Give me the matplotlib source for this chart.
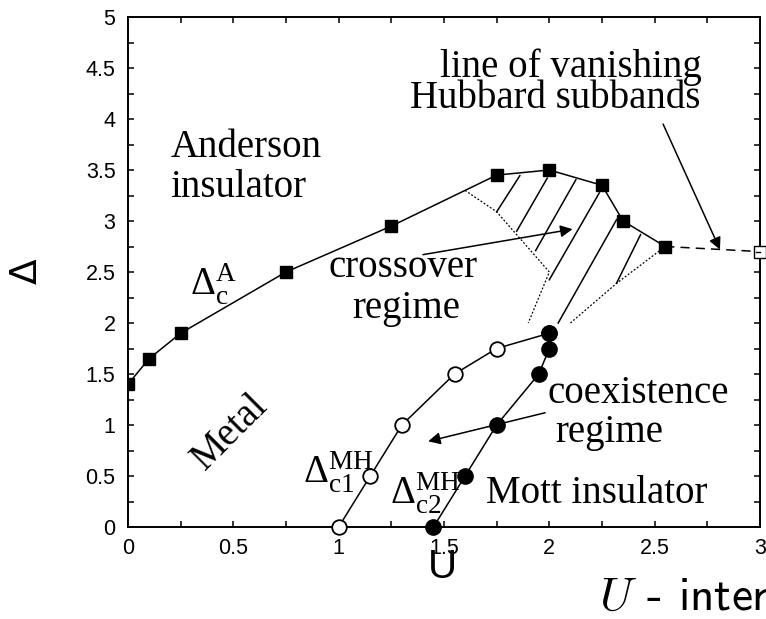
import numpy as np
import matplotlib.pyplot as plt
from matplotlib.ticker import MultipleLocator

plt.rcParams.update({
    "font.family": "Liberation Sans",
    "mathtext.fontset": "custom",
    "mathtext.rm": "Liberation Serif",
    "mathtext.it": "Liberation Serif:italic",
    "mathtext.bf": "Liberation Serif:bold",
    "axes.linewidth": 1.4,
    "xtick.direction": "in",
    "ytick.direction": "in",
    "xtick.top": True,
    "ytick.right": True,
    "xtick.major.size": 4.5,
    "ytick.major.size": 4.5,
    "xtick.minor.size": 4.5,
    "ytick.minor.size": 4.5,
    "xtick.major.width": 1.1,
    "ytick.major.width": 1.1,
    "xtick.minor.width": 1.1,
    "ytick.minor.width": 1.1,
    "xtick.major.pad": 8,
    "ytick.major.pad": 9,
    "xtick.labelsize": 15.5,
    "ytick.labelsize": 15.5,
})

# Anderson transition line Delta_c^A
u_and = [0.0, 0.1, 0.25, 0.75, 1.25, 1.75, 2.0, 2.25, 2.35, 2.55]
d_and = [1.4, 1.65, 1.9, 2.5, 2.95, 3.45, 3.5, 3.35, 3.0, 2.75]
# line of vanishing Hubbard subbands
u_van = [2.55, 3.0]
d_van = [2.75, 2.7]
# Mott-Hubbard lines Delta_c1 (open) and Delta_c2 (filled)
u_c1 = [1.0, 1.15, 1.3, 1.55, 1.75, 2.0]
d_c1 = [0.0, 0.5, 1.0, 1.5, 1.75, 1.9]
u_c2 = [1.45, 1.6, 1.75, 1.95, 2.0, 2.0]
d_c2 = [0.0, 0.5, 1.0, 1.5, 1.75, 1.9]

# crossover region: dotted borders and hatching
u_cross_l = [1.6, 1.75, 2.0, 1.9]
d_cross_l = [3.3, 3.09, 2.5, 2.0]
u_cross_r = [2.55, 2.32, 2.1]
d_cross_r = [2.75, 2.39, 2.0]
hatch_u0 = [1.86, 1.99, 2.126, 2.237, 2.319, 2.433]
hatch_d0 = [3.444, 3.42, 3.405, 3.275, 3.013, 2.866]
hatch_u1 = [1.75, 1.845, 1.935, 2.0, 2.042, 2.319]
hatch_d1 = [3.09, 2.9, 2.71, 2.424, 2.0, 2.39]

fig = plt.figure(figsize=(7.66, 6.19), dpi=100)
ax = fig.add_axes([128/766, 1-527/619, 632/766, 510/619])

lw = 1.1
ax.plot(u_and, d_and, '-', color='k', lw=lw, marker='s', ms=9, mfc='k', mec='k', zorder=3)
ax.plot(u_van, d_van, '--', color='k', lw=lw, dashes=(6, 4), zorder=2, clip_on=False)
ax.plot(u_van[-1], d_van[-1], 's', ms=8.5, mfc='white', mec='k', mew=1.0, zorder=4, clip_on=False)
ax.plot([u_van[-1] - 0.02, u_van[-1]], [d_van[-1], d_van[-1]], color='k', lw=1.0, zorder=5, clip_on=False)

ax.plot(u_c1, d_c1, '-', color='k', lw=lw, marker='o', ms=10.5, mfc='white', mec='k', mew=1.3,
        zorder=3, clip_on=False)
ax.plot(u_c2, d_c2, '-', color='k', lw=lw, marker='o', ms=11, mfc='k', mec='k', zorder=4, clip_on=False)

ax.plot(u_cross_l, d_cross_l, color='k', lw=0.9, ls=(0, (1.5, 1.5)), zorder=2)
ax.plot(u_cross_r, d_cross_r, color='k', lw=0.9, ls=(0, (1.5, 1.5)), zorder=2)
for x0, y0, x1, y1 in zip(hatch_u0, hatch_d0, hatch_u1, hatch_d1):
    ax.plot([x0, x1], [y0, y1], color='k', lw=lw, zorder=2)

arrow = dict(arrowstyle='-|>', color='k', lw=1.1, mutation_scale=18, shrinkA=0, shrinkB=0)
ax.annotate('', xy=(2.11, 2.92), xytext=(1.40, 2.67), arrowprops=arrow)
ax.annotate('', xy=(2.81, 2.72), xytext=(2.54, 3.95), arrowprops=arrow)
ax.annotate('', xy=(1.425, 0.84), xytext=(1.98, 1.12), arrowprops=arrow)

serif = dict(family='Liberation Serif', fontsize=28, va='baseline')
ax.text(0.2, 3.63, 'Anderson', ha='left', **serif)
ax.text(0.2, 3.24, 'insulator', ha='left', **serif)
ax.text(2.724, 4.415, 'line of vanishing', ha='right', **serif)
ax.text(2.715, 4.11, 'Hubbard subbands', ha='right', **serif)
ax.text(1.305, 2.45, 'crossover', ha='center', **serif)
ax.text(1.32, 2.05, 'regime', ha='center', **serif)
ax.text(1.993, 1.217, 'coexistence', ha='left', **serif)
ax.text(2.027, 0.834, 'regime', ha='left', **serif)
ax.text(1.699, 0.235, 'Mott insulator', ha='left', **serif)
ax.text(0.484, 0.93, 'Metal', ha='center', va='center', rotation=45,
        family='Liberation Serif', fontsize=28, rotation_mode='anchor')
ax.text(0.294, 2.28, r'$\mathrm{\Delta_c^A}$', ha='left', **serif)
ax.text(0.83, 0.43, r'$\mathrm{\Delta_{c1}^{MH}}$', ha='left', **serif)
ax.text(1.243, 0.216, r'$\mathrm{\Delta_{c2}^{MH}}$', ha='left', **serif)

ax.set_xlim(0, 3)
ax.set_ylim(0, 5)
ax.xaxis.set_major_locator(MultipleLocator(0.5))
ax.xaxis.set_minor_locator(MultipleLocator(0.25))
ax.yaxis.set_major_locator(MultipleLocator(0.5))
ax.yaxis.set_minor_locator(MultipleLocator(0.25))
ax.xaxis.set_major_formatter(plt.FuncFormatter(lambda v, p: f'{v:g}'))
ax.yaxis.set_major_formatter(plt.FuncFormatter(lambda v, p: f'{v:g}'))

fig.text(27/766, 1-271/619, r'$\Delta$', rotation=90, ha='center', va='center',
         fontsize=27, math_fontfamily='dejavusans')
fig.text(442/766, 1-567/619, 'U', ha='center', va='center', fontsize=29)
fig.text(599/766, 1-610/619, r'$U$ - interaction', ha='left', va='baseline',
         fontsize=34, family='cmss10', math_fontfamily='cm')

fig.savefig('out.png', dpi=100)
